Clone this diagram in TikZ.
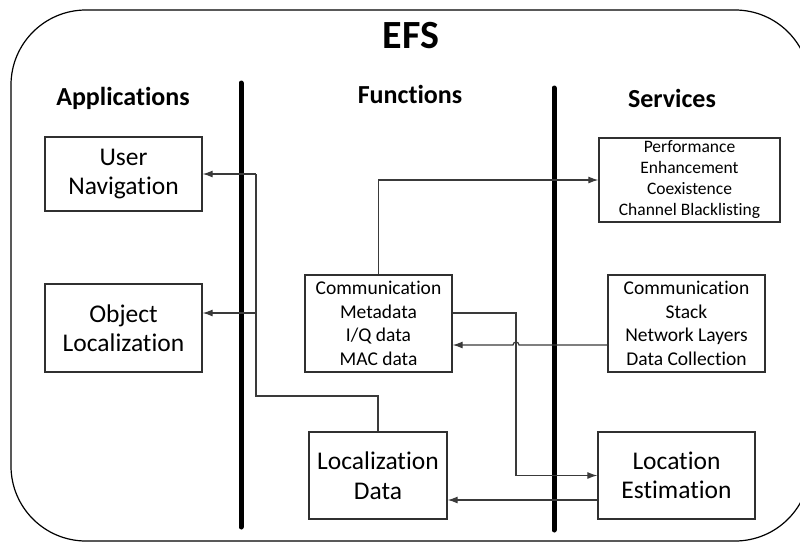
\documentclass[tikz,border=0pt]{standalone}
\usepackage{fontspec}
\setmainfont{Carlito}[Ligatures=NoCommon]
\usetikzlibrary{arrows.meta}
\definecolor{boxline}{HTML}{303030}
\definecolor{connline}{HTML}{3A3A3A}
\tikzset{
  box/.style={draw=boxline, line width=1.3pt, align=center, inner sep=0pt},
  bigtxt/.style={font=\fontsize{25.5}{29.5}\selectfont},
  midtxt/.style={font=\fontsize{19.5}{23.5}\selectfont},
  smalltxt/.style={font=\fontsize{17.5}{21}\selectfont},
  heading/.style={font=\bfseries\fontsize{26}{30}\selectfont, anchor=base},
  conn/.style={draw=connline, line width=1.2pt},
  arr/.style={conn, -{Latex[length=10pt,width=7pt]}},
  divider/.style={line width=5pt, line cap=round}
}
\begin{document}
\begin{tikzpicture}[x=1pt,y=-1pt]
\useasboundingbox (0,0) rectangle (800,541);
% outer frame
\draw[line width=1.2pt, rounded corners=75pt] (11,10) rectangle (810,541);
% titles
\node[font=\bfseries\fontsize{40}{46}\selectfont, anchor=base] (efs) at (411,48) {EFS};
\node[heading] (apps) at (123,105) {Applications};
\node[heading] (funcs) at (410,103) {Functions};
\node[heading] (servs) at (672,107) {Services};
% dividers
\draw[divider] (241,83) -- (241,527);
\draw[divider] (554,88) -- (554,530);
% boxes
\node[box, bigtxt, minimum width=157pt, minimum height=74pt] (un) at (123.5,174) {User\\Navigation};
\node[box, bigtxt, minimum width=157pt, minimum height=88pt] (ol) at (123.5,328) {Object\\Localization};
\node[box, midtxt, minimum width=147pt, minimum height=97pt] (cm) at (378.5,323.5) {Communication\\Metadata\\I/Q data\\MAC data};
\node[box, bigtxt, minimum width=138pt, minimum height=87pt] (ld) at (378,475.5) {Localization\\Data};
\node[box, smalltxt, minimum width=181pt, minimum height=84pt] (pe) at (689.5,180) {Performance\\Enhancement\\Coexistence\\Channel Blacklisting};
\node[box, midtxt, minimum width=157pt, minimum height=97pt] (cs) at (686.5,323.5) {Communication\\Stack\\Network Layers\\Data Collection};
\node[box, bigtxt, minimum width=157pt, minimum height=87pt] (le) at (676.5,475.5) {Location\\Estimation};
% helper coordinates
\coordinate (j1) at (256,396);
\coordinate (j2) at (256,174);
\coordinate (b1) at (256,313);
\coordinate (h) at (516,345);
\coordinate (k1) at (516,313);
\coordinate (m) at (520,500);
% connectors
\draw[conn] (ld.north) |- (j1) -- (j2);
\draw[arr] (j2) -- (un.east);
\draw[arr] (b1) -- (b1 -| ol.east);
\draw[arr] (cm.north) |- (pe.west);
\draw[arr] (h -| cs.west) -- (519,345) arc[start angle=0, end angle=180, radius=3pt] -- (h -| cm.east);
\draw[arr] (k1 -| cm.east) -- (k1) |- (le.west);
\draw[arr] (m -| le.west) -- (m -| ld.east);
\end{tikzpicture}
\end{document}
